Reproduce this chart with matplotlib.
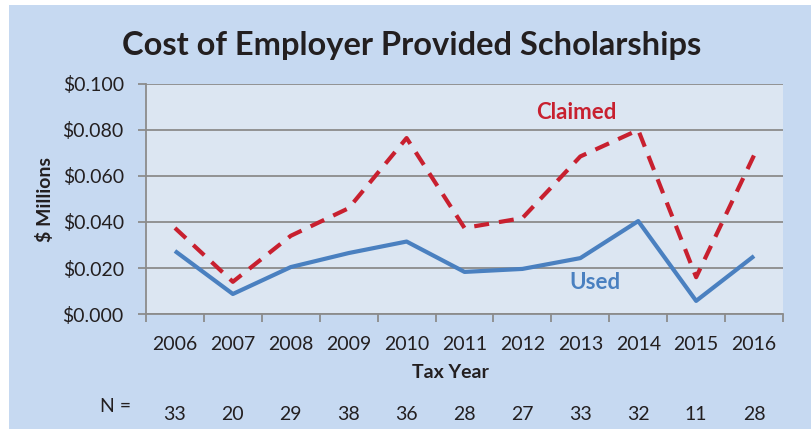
import matplotlib
matplotlib.use("Agg")
import matplotlib.pyplot as plt
import matplotlib.transforms as mtransforms
from matplotlib.patches import Rectangle

plt.rcParams['font.family'] = ['Lato', 'DejaVu Sans']

years = ['2006', '2007', '2008', '2009', '2010', '2011', '2012', '2013', '2014', '2015', '2016']
claimed = [0.0374, 0.0140, 0.0340, 0.0460, 0.0765, 0.0374, 0.0417, 0.0685, 0.0800, 0.0160, 0.0690]
used = [0.0274, 0.0087, 0.0204, 0.0265, 0.0315, 0.0183, 0.0196, 0.0243, 0.0404, 0.0057, 0.0252]
n_counts = [33, 20, 29, 38, 36, 28, 27, 33, 32, 11, 28]
y_ticks = [0.0, 0.02, 0.04, 0.06, 0.08, 0.10]

red = '#C8202F'
blue = '#4A80C0'
grid_col = '#8C8C8C'
text_col = '#231F20'

fig = plt.figure(figsize=(8.12, 4.29), dpi=100)
fig.patch.set_facecolor('white')
# outer light blue panel, kept behind the axes
panel = Rectangle((9 / 812, 0), 1, 1 - 5 / 429, transform=fig.transFigure,
                  facecolor='#C6D9F1', edgecolor='none', zorder=-10)
fig.add_artist(panel)

ax = fig.add_axes([146 / 812, 1 - 314 / 429, (783 - 146) / 812, (314 - 84) / 429])
ax.set_zorder(1)
ax.set_facecolor('#DCE6F2')

x = list(range(len(years)))
ax.plot(x, used, color=blue, lw=3.0, solid_capstyle='butt', zorder=3)
ln, = ax.plot(x, claimed, color=red, lw=3.0, zorder=3, dash_capstyle='butt')
ln.set_dashes((3.6, 2.4))

ax.set_xlim(-0.5, len(years) - 0.5)
ax.set_ylim(0, 0.1)

ax.set_yticks(y_ticks)
ax.set_yticklabels(['${:.3f}'.format(v) for v in y_ticks], fontsize=14, color=text_col)
ax.yaxis.grid(True, color=grid_col, lw=1.3)
ax.set_axisbelow(True)

# category axis: tick marks between categories, labels at centres
ax.set_xticks([i - 0.5 for i in range(len(years) + 1)])
ax.set_xticklabels([])
ax.set_xticks(x, minor=True)
ax.set_xticklabels(years, minor=True, fontsize=14, color=text_col)
ax.tick_params(axis='x', which='major', length=6, width=1.3, color=grid_col, direction='out')
ax.tick_params(axis='x', which='minor', length=0, pad=16)
ax.tick_params(axis='y', length=6, width=1.3, color=grid_col, pad=10)

for s in ['top', 'right']:
    ax.spines[s].set_visible(False)
for s in ['left', 'bottom']:
    ax.spines[s].set_color(grid_col)
    ax.spines[s].set_linewidth(1.3)

ax.text(6.93, 0.0874, 'Claimed', color=red, fontsize=16, fontweight='bold', ha='center', va='center')
ax.text(7.26, 0.0139, 'Used', color=blue, fontsize=16, fontweight='bold', ha='center', va='center')

fig.text(412 / 812, 1 - 45 / 429, 'Cost of Employer Provided Scholarships', fontsize=23.5,
         fontweight='bold', color=text_col, ha='center', va='center')
fig.text(45 / 812, 1 - 200 / 429, '$ Millions', rotation=90, fontsize=14, fontweight='bold',
         color=text_col, ha='center', va='center')
fig.text(450 / 812, 1 - 373 / 429, 'Tax Year', fontsize=14, fontweight='bold',
         color=text_col, ha='center', va='center')

fig.text(116 / 812, 1 - 407 / 429, 'N =', fontsize=14, color=text_col, ha='center', va='center')
trans = mtransforms.blended_transform_factory(ax.transData, fig.transFigure)
for i, n in enumerate(n_counts):
    ax.text(i, 1 - 414 / 429, str(n), transform=trans, fontsize=14, color=text_col,
            ha='center', va='center', clip_on=False)

fig.savefig('out.png', dpi=100)
